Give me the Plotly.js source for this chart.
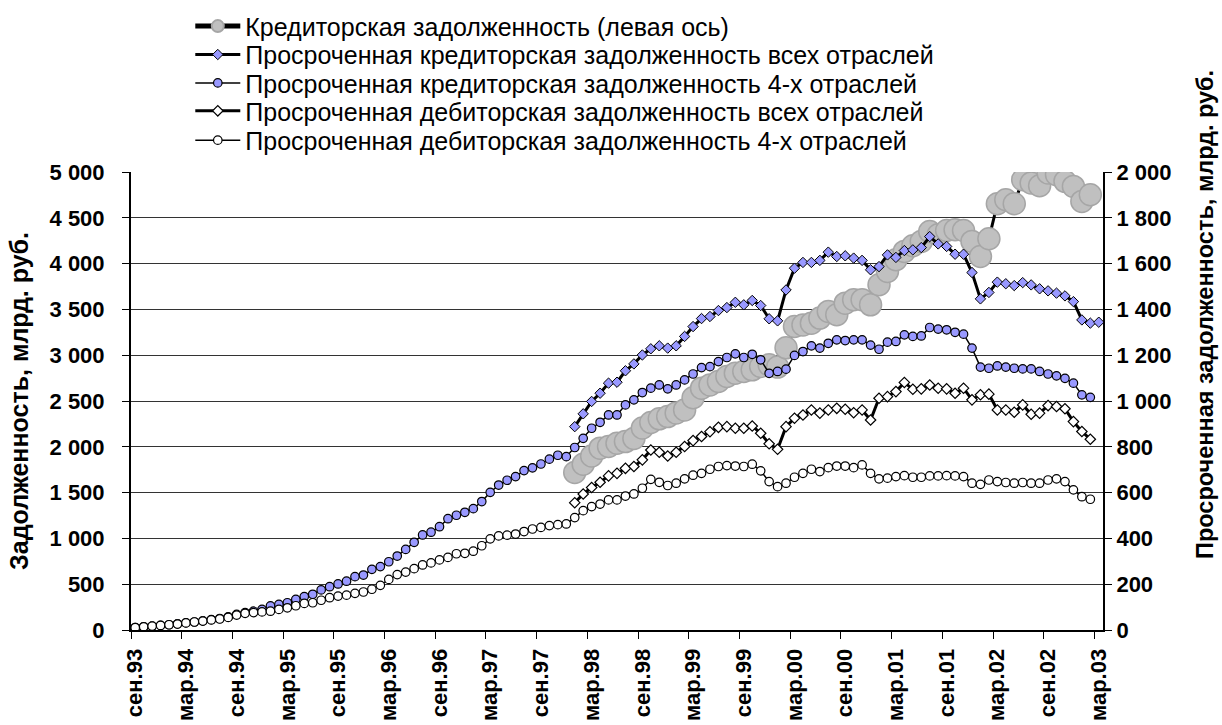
<!DOCTYPE html>
<html>
<head>
<meta charset="utf-8">
<script src="https://cdn.plot.ly/plotly-3.0.1.min.js"></script>
<style>html,body{margin:0;padding:0;background:#fff}</style>
</head>
<body>
<div id="chart" style="width:1222px;height:725px"></div>
<script>
// months from сен.93 to мар.03
const monthNames = ['янв', 'фев', 'мар', 'апр', 'май', 'июн', 'июл', 'авг', 'сен', 'окт', 'ноя', 'дек'];
const firstMonth = 8;
const firstYear = 93;
const monthCount = 115;
const months = [];
for (let i = 0; i < monthCount; i++) {
    const m = (firstMonth + i) % 12;
    const y = (firstYear + Math.floor((firstMonth + i) / 12)) % 100;
    months.push(monthNames[m] + '.' + String(y).padStart(2, '0'));
}

// series starting in янв.98 (index 52)
const lateStart = 52;

// Кредиторская задолженность, левая ось (янв.98 - фев.03)
const creditTotal = [
    1720, 1810, 1900, 1985, 2003, 2039, 2057, 2090, 2205, 2265,
    2305, 2330, 2370, 2403, 2535, 2640, 2676, 2713, 2767, 2804,
    2822, 2840, 2877, 2895, 2870, 3080, 3314, 3330, 3350, 3405,
    3478, 3441, 3568, 3605, 3605, 3550, 3769, 3914, 4042, 4133,
    4195, 4242, 4351, 4315, 4362, 4370, 4362, 4242, 4078, 4271,
    4654, 4697, 4654, 4916, 4880, 4850, 4989, 4970, 4898, 4843,
    4679, 4752
];

// Просроченная кредиторская задолженность всех отраслей (янв.98 - мар.03)
const overdueCreditAll = [
    888, 944, 998, 1034, 1078, 1082, 1132, 1162, 1201, 1228,
    1241, 1231, 1241, 1282, 1325, 1360, 1369, 1395, 1408, 1431,
    1420, 1439, 1417, 1359, 1350, 1485, 1580, 1605, 1605, 1614,
    1650, 1631, 1634, 1624, 1614, 1573, 1587, 1638, 1627, 1657,
    1660, 1670, 1718, 1686, 1675, 1641, 1641, 1561, 1446, 1474,
    1519, 1512, 1504, 1517, 1507, 1490, 1481, 1471, 1459, 1434,
    1354, 1340, 1344
];

// Просроченная кредиторская задолженность 4-х отраслей (сен.93 - фев.03)
const overdueCredit4 = [
    11, 14, 17, 20, 23, 27, 31, 35, 40, 45,
    50, 57, 68, 76, 82, 90, 105, 112, 119, 134,
    146, 156, 175, 189, 201, 213, 233, 240, 265, 277,
    298, 323, 352, 383, 415, 427, 451, 486, 501, 514,
    530, 561, 601, 633, 654, 670, 696, 708, 725, 746,
    763, 757, 797, 837, 881, 907, 939, 939, 983, 1005,
    1037, 1056, 1070, 1053, 1070, 1092, 1118, 1146, 1150, 1172,
    1190, 1206, 1190, 1204, 1180, 1121, 1129, 1139, 1199, 1216,
    1241, 1231, 1252, 1267, 1264, 1267, 1267, 1244, 1226, 1257,
    1260, 1289, 1282, 1284, 1321, 1314, 1311, 1300, 1292, 1231,
    1148, 1143, 1153, 1148, 1143, 1140, 1140, 1129, 1118, 1110,
    1099, 1078, 1027, 1016
];

// Просроченная дебиторская задолженность всех отраслей (янв.98 - фев.03)
const overdueDebitAll = [
    556, 594, 622, 645, 673, 684, 706, 714, 743, 786,
    776, 760, 776, 801, 827, 845, 866, 885, 888, 881,
    881, 891, 859, 813, 789, 888, 925, 939, 961, 947,
    961, 968, 964, 949, 961, 917, 1012, 1019, 1041, 1081,
    1051, 1053, 1070, 1056, 1053, 1034, 1056, 1005, 1027, 1030,
    961, 961, 951, 983, 942, 947, 980, 976, 966, 910,
    867, 833
];

// Просроченная дебиторская задолженность 4-х отраслей (сен.93 - фев.03)
const overdueDebit4 = [
    10, 14, 17, 20, 23, 26, 31, 35, 39, 44,
    48, 55, 65, 73, 76, 79, 82, 90, 97, 106,
    116, 119, 130, 141, 148, 152, 160, 166, 178, 195,
    221, 242, 253, 268, 284, 293, 306, 317, 333, 335,
    344, 368, 398, 411, 414, 419, 430, 441, 448, 456,
    460, 463, 491, 521, 539, 550, 568, 568, 585, 594,
    619, 658, 645, 631, 641, 660, 676, 684, 702, 714,
    718, 716, 714, 724, 695, 648, 626, 641, 667, 684,
    702, 692, 709, 716, 716, 709, 721, 684, 660, 663,
    670, 674, 667, 667, 673, 673, 674, 673, 670, 641,
    636, 655, 648, 644, 641, 644, 641, 641, 655, 660,
    648, 612, 582, 571
];

function pad(values, start) {
    const out = [];
    for (let i = 0; i < monthCount; i++) {
        const v = values[i - start];
        out.push(i >= start && v !== undefined ? v : null);
    }
    return out;
}

const fontFamily = 'Arial, "Liberation Sans", sans-serif';

const data = [
    {
        name: 'Кредиторская задолженность (левая ось)',
        x: months, y: pad(creditTotal, lateStart), yaxis: 'y', legend: 'legend',
        type: 'scatter', mode: 'lines+markers',
        line: {color: '#000000', width: 3},
        marker: {symbol: 'circle', size: 22, color: '#C0C0C0', line: {color: '#A6A6A6', width: 1.5}},
    },
    {
        name: 'Просроченная кредиторская задолженность всех отраслей',
        x: months, y: pad(overdueCreditAll, lateStart), yaxis: 'y2', legend: 'legend2',
        type: 'scatter', mode: 'lines+markers',
        line: {color: '#000000', width: 3},
        marker: {symbol: 'diamond', size: 8, color: '#9999FF', line: {color: '#000000', width: 1}},
    },
    {
        name: 'Просроченная кредиторская задолженность 4-х отраслей',
        x: months, y: pad(overdueCredit4, 0), yaxis: 'y2', legend: 'legend3',
        type: 'scatter', mode: 'lines+markers',
        line: {color: '#000000', width: 1.5},
        marker: {symbol: 'circle', size: 8.5, color: '#9999FF', line: {color: '#000000', width: 1.2}},
    },
    {
        name: 'Просроченная дебиторская задолженность всех отраслей',
        x: months, y: pad(overdueDebitAll, lateStart), yaxis: 'y2', legend: 'legend4',
        type: 'scatter', mode: 'lines+markers',
        line: {color: '#000000', width: 3},
        marker: {symbol: 'diamond', size: 8, color: '#FFFFFF', line: {color: '#000000', width: 1.2}},
    },
    {
        name: 'Просроченная дебиторская задолженность 4-х отраслей',
        x: months, y: pad(overdueDebit4, 0), yaxis: 'y2', legend: 'legend5',
        type: 'scatter', mode: 'lines+markers',
        line: {color: '#000000', width: 1.5},
        marker: {symbol: 'circle', size: 8.5, color: '#FFFFFF', line: {color: '#000000', width: 1.2}},
    },
];

const tickFont = {family: fontFamily, size: 22, color: '#000000', weight: 'bold'};

// one legend per row, so the rows sit as tight as in the original
function legendRow(rowY, sizing) {
    return {
        x: 0.061, y: rowY, xanchor: 'left', yanchor: 'middle',
        font: {family: fontFamily, size: 25, color: '#000000'},
        bgcolor: 'rgba(0,0,0,0)',
        itemsizing: sizing,
        itemwidth: 45,
    };
}

const layout = {
    width: 1222,
    height: 725,
    margin: {l: 131, r: 119, t: 172, b: 95, autoexpand: false},
    paper_bgcolor: '#ffffff',
    plot_bgcolor: '#ffffff',
    separators: ', ',
    font: {family: fontFamily, color: '#000000'},
    showlegend: true,
    legend: legendRow(1.318, 'constant'),
    legend2: legendRow(1.256, 'trace'),
    legend3: legendRow(1.194, 'trace'),
    legend4: legendRow(1.133, 'trace'),
    legend5: legendRow(1.069, 'trace'),
    xaxis: {
        type: 'category',
        categoryorder: 'array',
        categoryarray: months,
        range: [-0.5, monthCount - 0.5],
        tickmode: 'linear',
        tick0: 0,
        dtick: 6,
        tickson: 'boundaries',
        ticks: 'outside',
        ticklen: 7,
        tickcolor: '#000000',
        tickangle: -90,
        ticklabelstandoff: 8,
        tickfont: tickFont,
        showline: true,
        linecolor: '#000000',
        linewidth: 2,
        showgrid: false,
        zeroline: false,
    },
    yaxis: {
        range: [0, 5000],
        tick0: 0,
        dtick: 500,
        tickformat: ',d',
        ticks: 'outside',
        ticklen: 7,
        tickcolor: '#000000',
        ticklabelstandoff: 13,
        tickfont: tickFont,
        showline: true,
        linecolor: '#000000',
        linewidth: 2,
        showgrid: true,
        gridcolor: '#333333',
        gridwidth: 1,
        zeroline: false,
        title: {
            text: 'Задолженность, млрд. руб.',
            font: {family: fontFamily, size: 25, color: '#000000', weight: 'bold'},
            standoff: 14,
        },
    },
    yaxis2: {
        overlaying: 'y',
        side: 'right',
        range: [0, 2000],
        tick0: 0,
        dtick: 200,
        tickformat: ',d',
        ticks: 'outside',
        ticklen: 7,
        tickcolor: '#000000',
        tickfont: tickFont,
        showline: true,
        linecolor: '#000000',
        linewidth: 2,
        showgrid: false,
        zeroline: false,
    },
    annotations: [
        {
            text: 'Просроченная задолженность, млрд. руб.',
            xref: 'paper', yref: 'paper',
            x: 1.105, y: 0.688,
            xanchor: 'center', yanchor: 'middle',
            textangle: -90,
            showarrow: false,
            font: {family: fontFamily, size: 23.5, color: '#000000', weight: 'bold'},
        },
    ],
};

Plotly.newPlot('chart', data, layout, {displayModeBar: false, staticPlot: true});
</script>
</body>
</html>
